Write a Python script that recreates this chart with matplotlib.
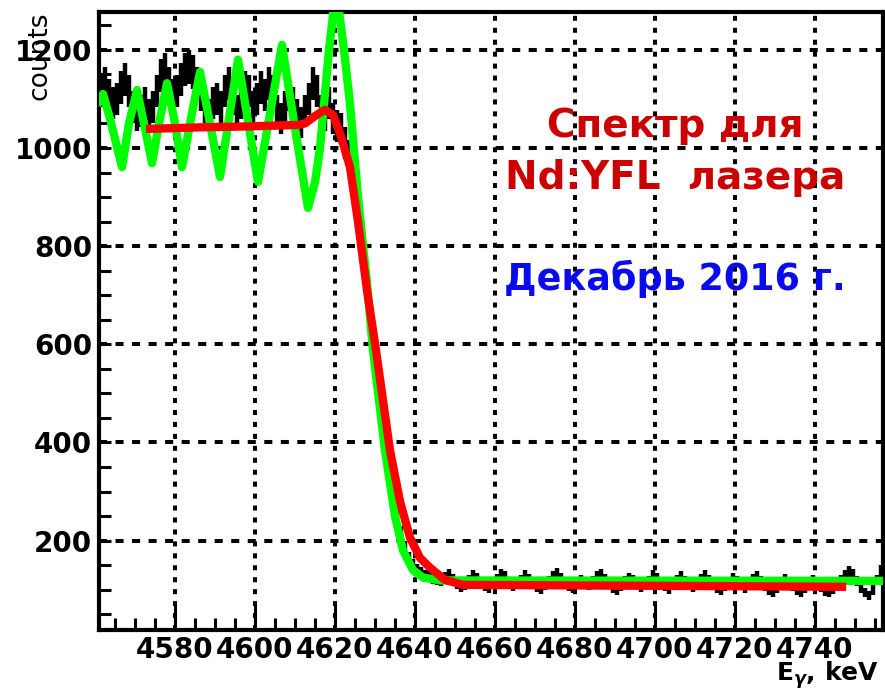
import numpy as np
import matplotlib.pyplot as plt

plt.rcParams['font.family'] = 'DejaVu Sans'
plt.rcParams['font.weight'] = 'bold'
plt.rcParams['lines.scale_dashes'] = False

# measured spectrum, 1 keV bins starting at 4561 keV
bin_lo = 4561
counts_plateau = [1116, 1132, 1108, 1092, 1100, 1124, 1140, 1116, 1084, 1068,
                  1076, 1092, 1068, 1084, 1116, 1148, 1160, 1132, 1108, 1116,
                  1140, 1160, 1165, 1155, 1132, 1108, 1084, 1068, 1092, 1100,
                  1084, 1116, 1132, 1100, 1076, 1092, 1124, 1116, 1084, 1100,
                  1124, 1108, 1132, 1116, 1076, 1060, 1084, 1108, 1092, 1068,
                  1052, 1076, 1100, 1132, 1116, 1076, 1068, 1092, 1060, 1045]
counts_edge = [1040, 1010, 985, 940, 880, 820, 750, 680, 610, 545,
               470, 410, 360, 300, 255, 215, 185, 165, 150, 140,
               135, 128, 130, 122, 120]
counts_tail = [118, 125, 130, 122, 112, 105, 110, 120, 128, 124,
               115, 108, 104, 112, 122, 130, 126, 116, 108, 112,
               120, 128, 122, 114, 106, 102, 110, 118, 126, 132,
               124, 114, 108, 104, 112, 120, 116, 110, 118, 126,
               130, 122, 112, 104, 100, 108, 118, 124, 120, 112,
               106, 110, 118, 128, 124, 116, 108, 102, 110, 120,
               126, 118, 110, 106, 114, 122, 128, 120, 112, 104,
               100, 108, 116, 124, 118, 110, 104, 112, 122, 126,
               118, 108, 100, 96, 104, 114, 122, 116, 108, 100,
               96, 104, 112, 120, 114, 106, 98, 94, 102, 112,
               120, 128, 136, 130, 118, 104, 94, 88, 100, 120,
               138]

# red fit (edge function)
red_e = [4573.75, 4586.25, 4598.75, 4610.75, 4612.5, 4615.0, 4617.5, 4619.5,
         4621.25, 4623.75, 4625.75, 4628.0, 4630.25, 4633.75, 4636.25, 4638.75,
         4641.25, 4643.75, 4647.5, 4652.0, 4746.75]
red_c = [1039, 1042, 1044, 1047, 1050, 1065, 1078, 1067,
         1030, 961, 850, 710, 588, 384, 280, 206,
         165, 145, 120, 110, 106]

# green curve (oscillating)
green_e = [4561.0, 4562.0, 4563.75, 4566.75, 4568.5, 4570.5, 4572.5, 4574.25,
           4576.25, 4578.0, 4580.0, 4581.75, 4584.0, 4586.25, 4588.75, 4591.25,
           4593.5, 4595.75, 4598.25, 4600.75, 4603.75, 4606.75, 4610.0, 4613.25,
           4615.0, 4616.25, 4618.5, 4620.25, 4622.25, 4623.75, 4625.75, 4628.0,
           4629.5, 4632.5, 4635.0, 4637.0, 4639.5, 4642.0, 4646.25, 4757.0]
green_c = [1095, 1110, 1060, 961, 1050, 1118, 1040, 969,
           1060, 1132, 1050, 961, 1060, 1155, 1050, 941,
           1060, 1180, 1055, 931, 1070, 1210, 1040, 878,
           930, 1000, 1200, 1325, 1200, 1090, 900, 724,
           588, 384, 250, 180, 140, 125, 119, 118]

xticks = [4580, 4600, 4620, 4640, 4660, 4680, 4700, 4720, 4740]
yticks = [200, 400, 600, 800, 1000, 1200]

W, H = 885, 690


def px(x, y):
    return x / W, 1 - y / H


fig = plt.figure(figsize=(W / 100, H / 100), dpi=100)
ax = fig.add_axes([99 / W, 1 - 630 / H, (883 - 99) / W, (630 - 12) / H])

counts = np.array(counts_plateau + counts_edge + counts_tail, dtype=float)
centers = bin_lo + 0.5 + np.arange(len(counts))
ax.errorbar(centers, counts, xerr=0.5, yerr=np.sqrt(counts), fmt='none',
            ecolor='black', elinewidth=3.2, capsize=0, zorder=2)

ax.plot(green_e, green_c, color='#00ff00', lw=6, solid_joinstyle='round', zorder=3)
ax.plot(red_e, red_c, color='#ff0000', lw=6, solid_joinstyle='round', zorder=4)

ax.set_xlim(4561, 4757)
ax.set_ylim(18, 1277)
ax.set_xticks(xticks)
ax.set_yticks(yticks)
ax.set_xticks(np.arange(4565, 4757, 5), minor=True)
ax.set_yticks(np.arange(50, 1277, 50), minor=True)

ax.set_axisbelow(True)
ax.xaxis.grid(True, which='major', color='black', lw=2.9, linestyle=(0, (3.6, 5.0)))
ax.yaxis.grid(True, which='major', color='black', lw=2.9, linestyle=(0, (5.8, 6.1)))

for s in ax.spines.values():
    s.set_linewidth(3)
ax.tick_params(axis='x', which='major', direction='in', length=19, width=2.2,
               labelsize=20, pad=4, top=False)
ax.tick_params(axis='x', which='minor', direction='in', length=8.5, width=2.2, top=False)
ax.tick_params(axis='y', which='both', direction='in', length=8.5, width=2.2,
               labelsize=20, pad=5, right=False)

fig.text(*px(40, 12), 'counts', rotation=90, ha='center', va='top',
         fontsize=19, fontweight='normal')
fig.text(*px(879, 681), r'E$_{\gamma}$, keV', ha='right', va='baseline', fontsize=18)

fig.text(*px(675, 137), 'Спектр для', ha='center', va='baseline',
         fontsize=28, color='#cc0000')
fig.text(*px(675, 189), 'Nd:YFL  лазера', ha='center', va='baseline',
         fontsize=28, color='#cc0000')
fig.text(*px(675, 290), 'Декабрь 2016 г.', ha='center', va='baseline',
         fontsize=26.3, color='#0a0aee')

fig.savefig('out.png', dpi=100)
